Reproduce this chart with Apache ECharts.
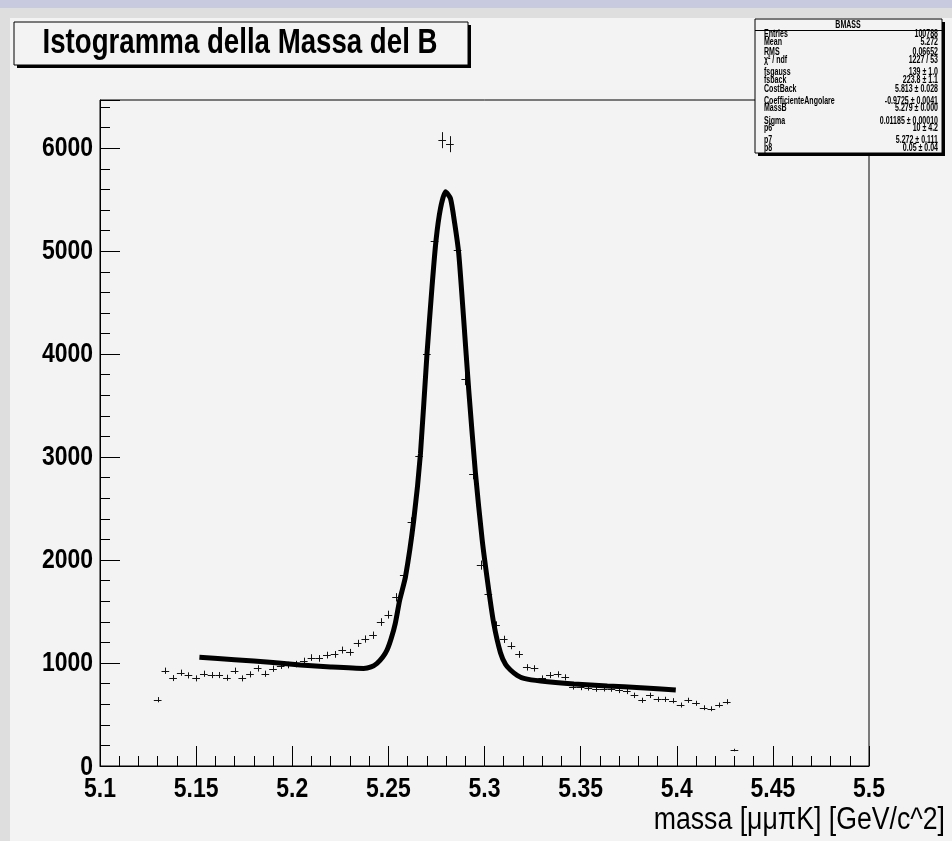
<!DOCTYPE html>
<html>
<head>
<meta charset="utf-8">
<script src="https://cdn.jsdelivr.net/npm/echarts@6/dist/echarts.min.js"></script>
<style>
html,body{margin:0;padding:0;background:#dedede;}
#chart{width:952px;height:841px;}
</style>
</head>
<body>
<div id="chart"></div>
<script>
// ---- Data ----
var binCenters = [5.130,5.134,5.138,5.142,5.146,5.150,5.154,5.158,5.162,5.166,5.170,5.174,5.178,5.182,5.186,5.190,5.194,5.198,
  5.202,5.206,5.210,5.214,5.218,5.222,5.226,5.230,5.234,5.238,5.242,5.246,5.250,5.254,5.258,5.262,5.266,5.270,5.274,5.278,
  5.282,5.286,5.290,5.294,5.298,5.302,5.306,5.310,5.314,5.318,5.322,5.326,5.330,5.334,5.338,5.342,5.346,5.350,5.354,5.358,
  5.362,5.366,5.370,5.374,5.378,5.382,5.386,5.390,5.394,5.398,5.402,5.406,5.410,5.414,5.418,5.422,5.426,5.430];
var binCounts = [644,925,854,906,880,851,896,883,883,857,925,851,890,948,896,945,974,980,
  990,1020,1053,1045,1077,1084,1126,1104,1191,1233,1270,1398,1470,1638,1858,2366,3013,3997,5097,6078,
  6039,5013,3760,2838,1951,1670,1368,1230,1168,1084,958,948,851,883,890,861,770,764,760,748,
  751,748,735,725,686,638,686,647,647,634,592,638,609,566,556,592,624,155];
var binWidth = 0.004;

var fitX = [5.1517,5.170,5.190,5.2042,5.220,5.2371,5.2410,5.2441,5.2470,5.2493,5.2515,5.2536,5.2559,5.2589,5.2632,5.2667,
  5.2701,5.2727,5.2748,5.2771,5.2797,5.2823,5.2845,5.2866,5.2892,5.2918,5.2953,5.2988,5.3022,5.3048,5.3083,5.3110,5.3135,
  5.3170,5.3205,5.3292,5.3465,5.3639,5.3813,5.3995];
var fitY = [1055,1032,1006,981,962,948,962,997,1055,1126,1240,1385,1612,1838,2388,3036,
  4006,4653,5107,5414,5576,5511,5269,4977,4330,3650,2842,2194,1709,1385,1100,985,932,
  880,851,825,796,777,760,738];

var yTicks = [0,1000,2000,3000,4000,5000,6000];
var xTicks = [5.1,5.15,5.2,5.25,5.3,5.35,5.4,5.45,5.5];
var xTickLabels = ['5.1','5.15','5.2','5.25','5.3','5.35','5.4','5.45','5.5'];

var titleText = 'Istogramma della Massa del B';
var xTitle = 'massa [\u03bc\u03bc\u03c0K] [GeV/c^2]';
var statHeader = 'BMASS';
var statNames = ['Entries','Mean','RMS','\u03c7\u00b2 / ndf','fsgauss','fsback','CostBack','CoefficienteAngolare','MassB','Sigma','p6','p7','p8'];
var statValues = ['100788','5.272','0.06652','1227 / 53','139 \u00b1 1.0','223.8 \u00b1 1.1','5.813 \u00b1 0.028','-0.9725 \u00b1 0.0041','5.279 \u00b1 0.000','0.01185 \u00b1 0.00010','10 \u00b1 4.2','5.272 \u00b1 0.111','0.05 \u00b1 0.04'];
var statRowY = [34,42.5,52.5,60.5,72,80,89.5,101,108.5,121,128.5,140,148];

// ---- Chart ----
var FONT = '"Liberation Sans",Arial,sans-serif';
var NARROW_SCALE = 0.82;
var chart = echarts.init(document.getElementById('chart'), null, {renderer:'canvas'});

var histData = binCenters.map(function(x,i){ return [x, binCounts[i]]; });
var fitData = fitX.map(function(x,i){ return [x, fitY[i]]; });

function txt(x, y, text, font, align, sx, z){
  return {type:'text', x:x, y:y, scaleX:sx, silent:true,
    style:{text:text, font:font, fill:'#000', align:align, verticalAlign:'middle'}, z:z||12};
}

var graphics = [
  {type:'rect', shape:{x:0,y:0,width:952,height:841}, style:{fill:'#dedede'}, z:-10, silent:true},
  {type:'rect', shape:{x:0,y:0,width:952,height:8}, style:{fill:'#c8cbdf'}, z:-9, silent:true},
  {type:'rect', shape:{x:10,y:18,width:942,height:823}, style:{fill:'#f3f3f3'}, z:-9, silent:true},
  // title box with shadow
  {type:'rect', shape:{x:17,y:25,width:454,height:43}, style:{fill:'#000'}, z:10},
  {type:'rect', shape:{x:14,y:22,width:454,height:43}, style:{fill:'#f3f3f3', stroke:'#000', lineWidth:1}, z:11},
  txt(240, 43, titleText, 'bold 35px '+FONT, 'center', 0.79),
  // stats box
  {type:'rect', shape:{x:758,y:22,width:187,height:134}, style:{fill:'#000'}, z:10},
  {type:'rect', shape:{x:755,y:19,width:187,height:134}, style:{fill:'#f3f3f3', stroke:'#000', lineWidth:1}, z:11},
  {type:'line', shape:{x1:755,y1:30.5,x2:942,y2:30.5}, style:{stroke:'#000', lineWidth:1}, z:12},
  txt(848, 25, statHeader, 'bold 10px '+FONT, 'center', 0.7),
  // x axis title
  txt(945, 820, xTitle, '31px '+FONT, 'right', 0.86)
];
statNames.forEach(function(n,i){
  graphics.push(txt(764, statRowY[i], n, 'bold 10.5px '+FONT, 'left', 0.67));
  graphics.push(txt(938, statRowY[i], statValues[i], 'bold 10.5px '+FONT, 'right', 0.67));
});

var option = {
  animation:false,
  backgroundColor:'transparent',
  grid:{left:100, top:100, right:83, bottom:75, show:true, borderColor:'#000', borderWidth:1, backgroundColor:'#f3f3f3'},
  xAxis:{
    type:'value', min:5.1, max:5.5, interval:0.05,
    axisLine:{show:true, onZero:false, lineStyle:{color:'#000', width:1}},
    axisTick:{show:true, inside:true, length:20, lineStyle:{color:'#000'}},
    minorTick:{show:true, splitNumber:5, length:10, lineStyle:{color:'#000'}},
    splitLine:{show:false},
    axisLabel:{show:false}
  },
  yAxis:{
    type:'value', min:0, max:6468, interval:1000,
    axisLine:{show:true, lineStyle:{color:'#000', width:1}},
    axisTick:{show:true, inside:true, length:20, lineStyle:{color:'#000'}},
    minorTick:{show:true, splitNumber:5, length:10, lineStyle:{color:'#000'}},
    splitLine:{show:false},
    axisLabel:{show:false}
  },
  graphic:graphics,
  series:[
    {
      type:'custom', name:'hist', data:histData, z:3,
      renderItem:function(params, api){
        var x = api.value(0), y = api.value(1);
        var e = Math.sqrt(y);
        var pL = api.coord([x - binWidth/2, y]);
        var pR = api.coord([x + binWidth/2, y]);
        var pT = api.coord([x, y + e]);
        var pB = api.coord([x, y - e]);
        return {type:'group', children:[
          {type:'line', shape:{x1:pL[0], y1:Math.round(pL[1])+0.5, x2:pR[0], y2:Math.round(pR[1])+0.5}, style:{stroke:'#111', lineWidth:1}},
          {type:'line', shape:{x1:Math.round(pT[0])+0.5, y1:pT[1], x2:Math.round(pB[0])+0.5, y2:pB[1]}, style:{stroke:'#111', lineWidth:1}}
        ]};
      }
    },
    {
      type:'line', name:'fit', data:fitData, showSymbol:false, symbol:'none', smooth:0.2, z:5,
      lineStyle:{color:'#000', width:5}
    }
  ]
};
chart.setOption(option);

// tick labels placed through the axes' own scales (narrow bold look)
var labelGraphics = [];
xTicks.forEach(function(v, i){
  var p = chart.convertToPixel({gridIndex:0}, [v, 0]);
  labelGraphics.push(txt(p[0], p[1] + 23, xTickLabels[i], 'bold 28px '+FONT, 'center', NARROW_SCALE));
});
yTicks.forEach(function(v){
  var p = chart.convertToPixel({gridIndex:0}, [5.1, v]);
  var dy = (v === 0) ? 1 : 0;
  labelGraphics.push(txt(p[0] - 7, p[1] + dy, String(v), 'bold 28px '+FONT, 'right', NARROW_SCALE));
});
chart.setOption({graphic: graphics.concat(labelGraphics)});
</script>
</body>
</html>
